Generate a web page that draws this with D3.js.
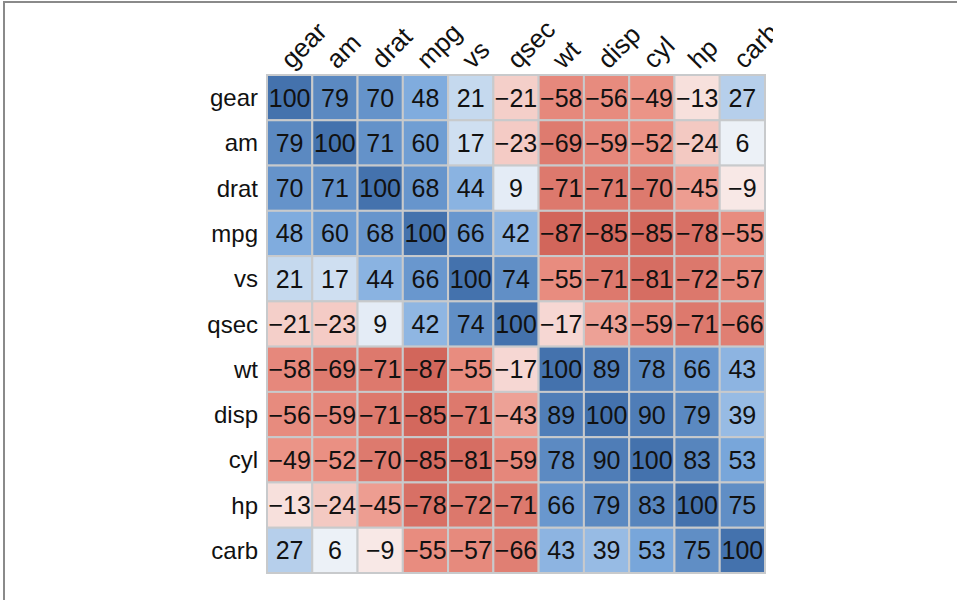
<!DOCTYPE html>
<html>
<head>
<meta charset="utf-8" />
<title>mtcars correlation</title>
<script src="https://d3js.org/d3.v7.min.js"></script>
<style>
  body { margin: 0; background-color: #ffffff; }
  text { font-family: "Liberation Sans", Arial, Helvetica, sans-serif; }
</style>
</head>
<body>
<svg id="chart">
  <g id="frame"></g>
  <g id="cells"></g>
  <g id="rows"></g>
  <g id="cols"></g>
</svg>
<script>
// variable order (rows and columns)
var vars = ["gear", "am", "drat", "mpg", "vs", "qsec", "wt", "disp", "cyl", "hp", "carb"];

// correlation x 100, one row per variable
var gear = [100, 79, 70, 48, 21, -21, -58, -56, -49, -13, 27];
var am   = [79, 100, 71, 60, 17, -23, -69, -59, -52, -24, 6];
var drat = [70, 71, 100, 68, 44, 9, -71, -71, -70, -45, -9];
var mpg  = [48, 60, 68, 100, 66, 42, -87, -85, -85, -78, -55];
var vs   = [21, 17, 44, 66, 100, 74, -55, -71, -81, -72, -57];
var qsec = [-21, -23, 9, 42, 74, 100, -17, -43, -59, -71, -66];
var wt   = [-58, -69, -71, -87, -55, -17, 100, 89, 78, 66, 43];
var disp = [-56, -59, -71, -85, -71, -43, 89, 100, 90, 79, 39];
var cyl  = [-49, -52, -70, -85, -81, -59, 78, 90, 100, 83, 53];
var hp   = [-13, -24, -45, -78, -72, -71, 66, 79, 83, 100, 75];
var carb = [27, 6, -9, -55, -57, -66, 43, 39, 53, 75, 100];

var rows = [gear, am, drat, mpg, vs, qsec, wt, disp, cyl, hp, carb];

var width = 957;
var height = 600;
var margin = { top: 75, left: 267 };
var gridSize = 498;

var svg = d3.select("#chart")
  .attr("width", width)
  .attr("height", height);

// grey frame, top and left edges only
svg.select("#frame").append("path")
  .attr("d", "M4,600 V2 H957")
  .attr("fill", "none")
  .attr("stroke", "#8a8a8a")
  .attr("stroke-width", 2);

var x = d3.scaleBand()
  .domain(vars)
  .range([margin.left, margin.left + gridSize]);

var y = d3.scaleBand()
  .domain(vars)
  .range([margin.top, margin.top + gridSize]);

var color = d3.scaleLinear()
  .domain([-100, -50, 0, 50, 100])
  .range(["#c9564c", "#eb9285", "#fbfbfb", "#7ba9dd", "#4472ad"]);

var cells = [];
rows.forEach(function(r, i) {
  r.forEach(function(v, j) {
    cells.push({ row: vars[i], col: vars[j], value: v });
  });
});

var g = svg.select("#cells").selectAll(".cell")
  .data(cells)
  .enter().append("g")
  .attr("class", "cell");

g.append("rect")
  .attr("x", function(d) { return x(d.col); })
  .attr("y", function(d) { return y(d.row); })
  .attr("width", x.bandwidth())
  .attr("height", y.bandwidth())
  .style("fill", function(d) { return color(d.value); })
  .style("stroke", "#c8cacc")
  .style("stroke-width", 2);

g.append("text")
  .attr("x", function(d) { return x(d.col) + x.bandwidth() / 2; })
  .attr("y", function(d) { return y(d.row) + y.bandwidth() / 2 + 9; })
  .attr("text-anchor", "middle")
  .attr("font-size", "25px")
  .attr("fill", "#111")
  .text(function(d) { return d.value < 0 ? "\u2212" + Math.abs(d.value) : d.value; });

// row labels
svg.select("#rows").selectAll("text")
  .data(vars)
  .enter().append("text")
  .attr("x", margin.left - 9)
  .attr("y", function(d) { return y(d) + y.bandwidth() / 2 + 8.5; })
  .attr("text-anchor", "end")
  .attr("font-size", "24px")
  .attr("fill", "#111")
  .text(function(d) { return d; });

// column labels, rotated, cut at the right like the original
svg.append("clipPath").attr("id", "colclip")
  .append("rect")
  .attr("x", 0).attr("y", 0)
  .attr("width", 773).attr("height", height);

svg.select("#cols")
  .attr("clip-path", "url(#colclip)")
  .selectAll("text")
  .data(vars)
  .enter().append("text")
  .attr("transform", function(d) {
    return "translate(" + (x(d) + x.bandwidth() / 2 + 2) + "," + (margin.top - 5) + ") rotate(-45)";
  })
  .attr("text-anchor", "start")
  .attr("font-size", "26px")
  .attr("fill", "#111")
  .text(function(d) { return d; });
</script>
</body>
</html>
